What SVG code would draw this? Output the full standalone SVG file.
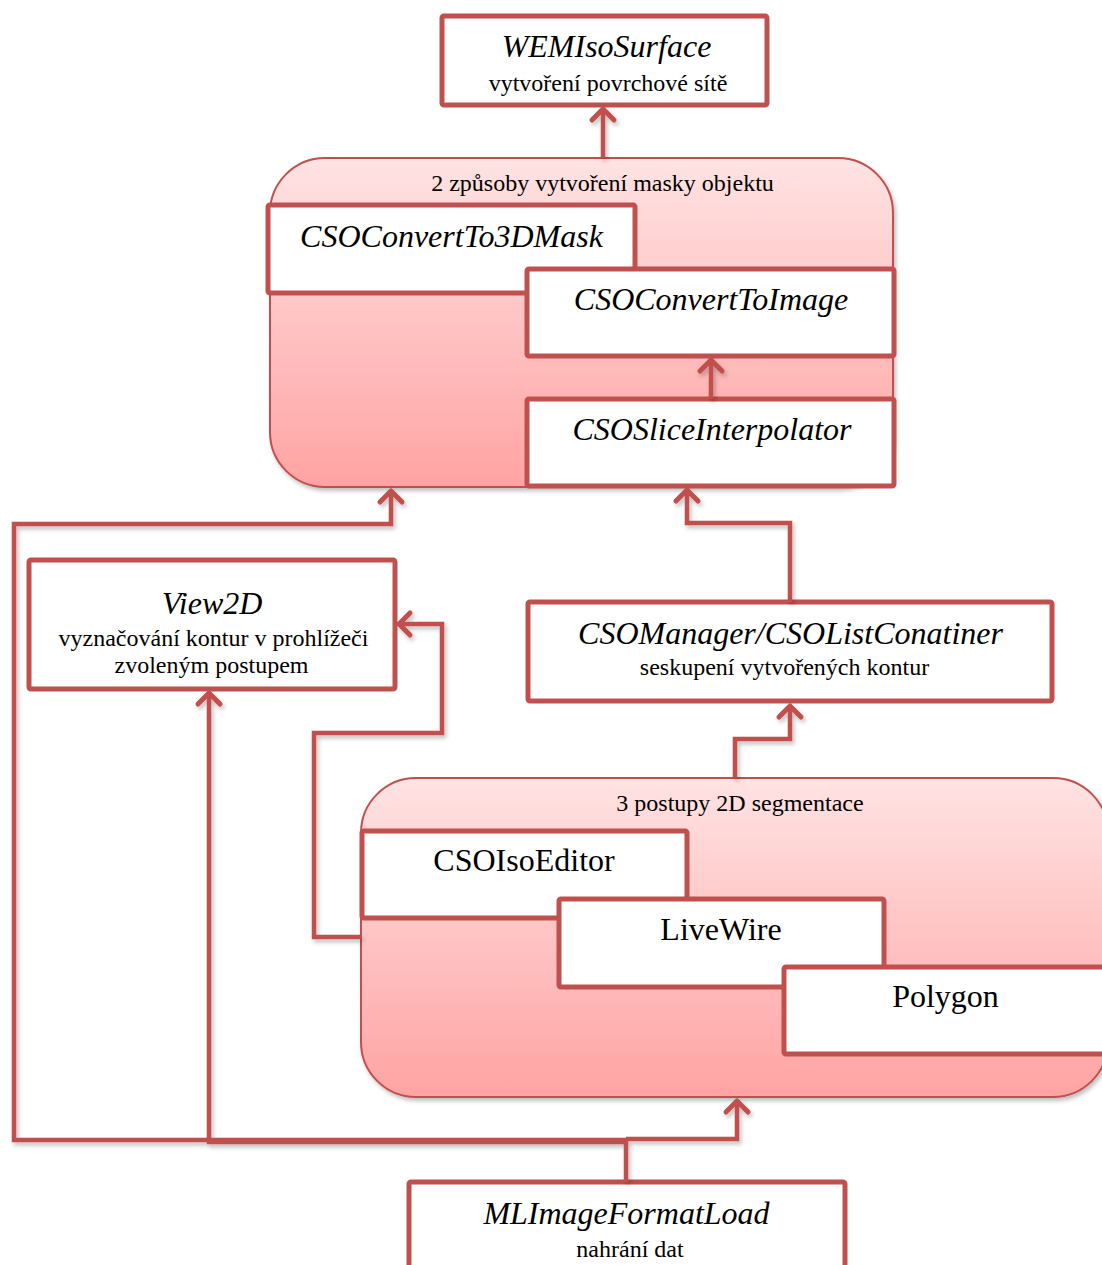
<svg xmlns="http://www.w3.org/2000/svg" width="1102" height="1265" viewBox="0 0 1102 1265">
  <defs>
    <linearGradient id="groupFill" x1="0" y1="0" x2="0" y2="1">
      <stop offset="0" stop-color="#ffe3e3"/>
      <stop offset="1" stop-color="#ffa3a3"/>
    </linearGradient>
    <filter id="shadow" x="-5%" y="-5%" width="110%" height="115%">
      <feDropShadow dx="2" dy="3" stdDeviation="2" flood-color="#000" flood-opacity="0.25"/>
    </filter>
    <marker id="chev" markerUnits="userSpaceOnUse" markerWidth="30" markerHeight="30" refX="0" refY="0" orient="auto" overflow="visible">
      <path d="M-11,-11 L0,0 L-11,11" fill="none" stroke="#c0504d" stroke-width="5" stroke-linecap="round" stroke-linejoin="round"/>
    </marker>
  </defs>
  <style>
    .group { fill: url(#groupFill); stroke: #c0504d; stroke-width: 2; filter: url(#shadow); }
    .box { fill: #ffffff; stroke: #c0504d; stroke-width: 5; }
    text { font-family: 'Liberation Serif', 'Times New Roman', serif; fill: #000; text-anchor: middle; }
    .title { font-size: 32px; font-style: italic; }
    .name { font-size: 32px; }
    .sub { font-size: 24px; }
    .wire { fill: none; stroke: #c0504d; stroke-width: 4.5; stroke-linejoin: miter; }
    .arrow { marker-end: url(#chev); }
  </style>

  <!-- mesh output -->
  <g id="wemIsoSurface">
    <rect class="box" x="442" y="16" width="325" height="89" rx="2"/>
    <text class="title" x="606.5" y="57">WEMIsoSurface</text>
    <text class="sub" x="608" y="91">vytvoření povrchové sítě</text>
  </g>

  <!-- mask creation group -->
  <g id="maskGroup">
    <rect class="group" x="270" y="158" width="623" height="329" rx="55"/>
    <text class="sub" x="602.5" y="191">2 způsoby vytvoření masky objektu</text>
  </g>
  <g id="csoConvertTo3DMask">
    <rect class="box" x="268" y="205" width="367" height="88" rx="2"/>
    <text class="title" x="451.5" y="247">CSOConvertTo3DMask</text>
  </g>
  <g id="csoConvertToImage">
    <rect class="box" x="527" y="269" width="367" height="87" rx="2"/>
    <text class="title" x="711" y="310">CSOConvertToImage</text>
  </g>
  <g id="csoSliceInterpolator">
    <rect class="box" x="527" y="399" width="367" height="87" rx="2"/>
    <text class="title" x="712" y="440">CSOSliceInterpolator</text>
  </g>

  <!-- viewer -->
  <g id="view2D">
    <rect class="box" x="29" y="560" width="366" height="129" rx="2"/>
    <text class="title" x="212" y="614">View2D</text>
    <text class="sub" x="213.5" y="646">vyznačování kontur v prohlížeči</text>
    <text class="sub" x="211.5" y="673">zvoleným postupem</text>
  </g>

  <!-- contour container -->
  <g id="csoManager">
    <rect class="box" x="528" y="602" width="524" height="99" rx="2"/>
    <text class="title" x="790.5" y="644">CSOManager/CSOListConatiner</text>
    <text class="sub" x="784.5" y="675">seskupení vytvořených kontur</text>
  </g>

  <!-- segmentation group -->
  <g id="segmentationGroup">
    <rect class="group" x="361" y="778" width="747" height="319" rx="55"/>
    <text class="sub" x="740" y="811">3 postupy 2D segmentace</text>
  </g>
  <g id="csoIsoEditor">
    <rect class="box" x="362" y="831" width="325" height="87" rx="2"/>
    <text class="name" x="524" y="871">CSOIsoEditor</text>
  </g>
  <g id="liveWire">
    <rect class="box" x="559" y="899" width="325" height="88" rx="2"/>
    <text class="name" x="721" y="940">LiveWire</text>
  </g>
  <g id="polygon">
    <rect class="box" x="784" y="967" width="330" height="87" rx="2"/>
    <text class="name" x="945.5" y="1007">Polygon</text>
  </g>

  <!-- data loading -->
  <g id="mlImageFormatLoad">
    <rect class="box" x="409" y="1182" width="436" height="100" rx="2"/>
    <text class="title" x="626.5" y="1224">MLImageFormatLoad</text>
    <text class="sub" x="630" y="1257">nahrání dat</text>
  </g>

  <!-- connectors -->
  <g id="connectors" filter="url(#shadow)">
    <path class="wire arrow" d="M603,158 V109"/>
    <path class="wire arrow" d="M711,399 V360"/>
    <path class="wire arrow" d="M626,1182 V1140 H14 V524 H391 V491"/>
    <path class="wire arrow" d="M626,1142 H209 V693"/>
    <path class="wire arrow" d="M626,1139 H737 V1101"/>
    <path class="wire arrow" d="M790,602 V523 H687 V490"/>
    <path class="wire arrow" d="M735,778 V739 H790 V706"/>
    <path class="wire arrow" d="M361,937 H314 V733 H442 V624 H399"/>
  </g>
</svg>
